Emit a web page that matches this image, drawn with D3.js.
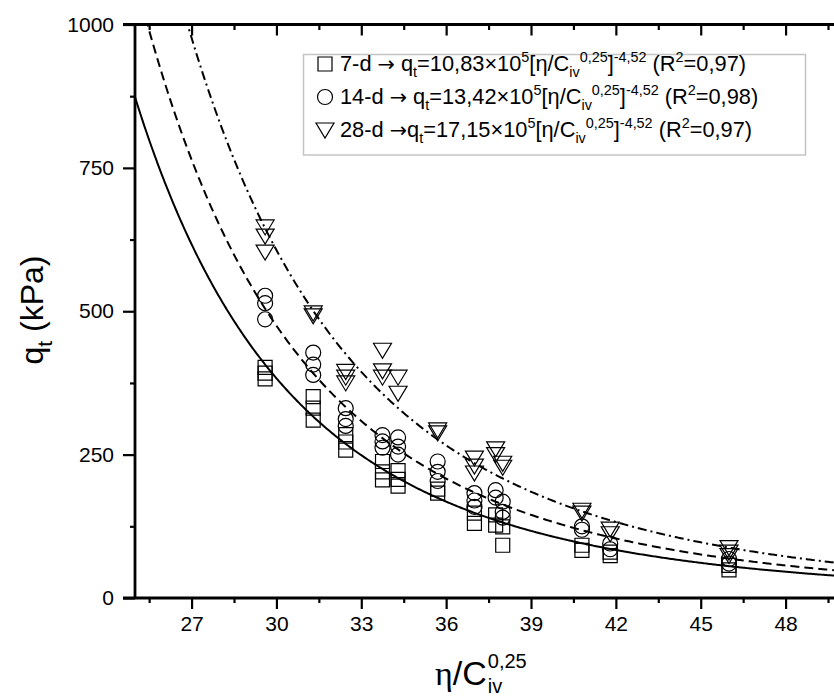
<!DOCTYPE html>
<html>
<head>
<meta charset="utf-8">
<script src="https://cdn.jsdelivr.net/npm/d3@7"></script>
<style>
body{margin:0;background:#fff;}
svg text{font-family:Arial,"Liberation Sans",sans-serif;fill:#000;}
</style>
</head>
<body>
<div id="chart"></div>
<script>
// axis ticks
var xTicks = [27,30,33,36,39,42,45,48];
var xMinor = [25.5,28.5,31.5,34.5,37.5,40.5,43.5,46.5,49.5];
var yTicks = [0,250,500,750,1000];
var yMinor = [125,375,625,875];

// measured points [eta/Civ^0.25, qt]
var d7 = [[29.6,402],[29.6,392],[29.6,382],[31.3,351],[31.3,331],[31.3,310],
  [32.45,285],[32.45,272],[32.45,258],[33.75,238],[33.75,220],[33.75,206],
  [34.3,222],[34.3,207],[34.3,195],[35.7,190],[35.7,183],[37.0,148],[37.0,130],
  [37.75,145],[37.75,127],[38.0,124],[38.0,92],[40.8,92],[40.8,83],
  [41.8,80],[41.8,74],[46.0,57],[46.0,49]];
var d14 = [[29.6,527],[29.6,514],[29.6,486],[31.3,428],[31.3,407],[31.3,389],
  [32.45,331],[32.45,312],[32.45,300],[33.75,284],[33.75,273],[33.75,262],
  [34.3,280],[34.3,264],[34.3,250],[35.7,238],[35.7,220],[35.7,204],
  [37.0,183],[37.0,170],[37.0,159],[37.75,188],[37.75,175],[38.0,168],[38.0,150],[38.0,140],
  [40.8,125],[40.8,119],[41.8,95],[41.8,85],[46.0,68],[46.0,60]];
var d28 = [[29.6,647],[29.6,631],[29.6,603],[31.3,497],[31.3,492],
  [32.45,395],[32.45,385],[32.45,375],[33.75,432],[33.75,396],[33.75,385],
  [34.3,385],[34.3,357],[35.7,293],[35.7,288],[37.0,244],[37.0,230],[37.0,218],
  [37.75,260],[37.75,250],[38.0,235],[38.0,228],[40.8,153],[40.8,148],
  [41.8,120],[41.8,112],[46.0,88],[46.0,80],[46.0,74]];

// power fits qt = a*1e5*k*(x)^b  (k)
var fitA = [10.83, 13.42, 17.15];
var fitB = -4.52;
var fitK = 1680;

var legendText = [
  "7-d → q_{t}=10,83×10^{5}[η/C_{iv}^{0,25}]^{-4,52} (R^{2}=0,97)",
  "14-d → q_{t}=13,42×10^{5}[η/C_{iv}^{0,25}]^{-4,52} (R^{2}=0,98)",
  "28-d →q_{t}=17,15×10^{5}[η/C_{iv}^{0,25}]^{-4,52} (R^{2}=0,97)"
];

var W = 834, H = 700;
var m = {t:24.5, l:135, b:102};

var svg = d3.select("#chart").append("svg")
  .attr("width", W).attr("height", H);

var x = d3.scaleLinear().domain([25,50]).range([m.l, m.l + 25*28.286]);
var y = d3.scaleLinear().domain([0,1000]).range([H - m.b, m.t]);

svg.append("clipPath").attr("id","clip")
  .append("rect")
  .attr("x", x(25)).attr("y", y(1000))
  .attr("width", x(50)-x(25)).attr("height", y(0)-y(1000));

// axes
var axB = d3.axisBottom(x).tickValues(xTicks).tickSize(11).tickPadding(7).tickFormat(d3.format("d"));
var axBm = d3.axisBottom(x).tickValues(xMinor).tickSize(5).tickFormat("");
var axT = d3.axisBottom(x).tickValues(xTicks).tickSize(11).tickFormat("");
var axTm = d3.axisBottom(x).tickValues(xMinor).tickSize(5.5).tickFormat("");
var axL = d3.axisLeft(y).tickValues(yTicks).tickSize(12).tickPadding(9).tickFormat(d3.format("d"));
var axLm = d3.axisLeft(y).tickValues(yMinor).tickSize(5).tickFormat("");

function styleAxis(g){
  g.select(".domain").remove();
  g.selectAll("line").attr("stroke","#000").attr("stroke-width",2.2);
  g.selectAll("text").attr("font-size","21px").attr("fill","#000");
}

svg.append("g").attr("transform","translate(0,"+y(0)+")").call(axB).call(styleAxis);
svg.append("g").attr("transform","translate(0,"+y(0)+")").call(axBm).call(styleAxis);
svg.append("g").attr("transform","translate(0,"+y(1000)+")").call(axT).call(styleAxis);
svg.append("g").attr("transform","translate(0,"+y(1000)+")").call(axTm).call(styleAxis);
svg.append("g").attr("transform","translate("+x(25)+",0)").call(axL).call(styleAxis);
svg.append("g").attr("transform","translate("+x(25)+",0)").call(axLm).call(styleAxis);

// axis frame lines
svg.append("line").attr("x1",x(25)).attr("x2",x(25)).attr("y1",y(0)+1).attr("y2",y(1000)-1)
  .attr("stroke","#000").attr("stroke-width",2.8);
svg.append("line").attr("x1",x(25)-12).attr("x2",W).attr("y1",y(0)).attr("y2",y(0))
  .attr("stroke","#000").attr("stroke-width",2.8);
svg.append("line").attr("x1",x(25)-12).attr("x2",W).attr("y1",y(1000)).attr("y2",y(1000))
  .attr("stroke","#000").attr("stroke-width",2.8);

// fitted curves
var dashes = [null, "9,5", "9,4,2,4"];
var xs = d3.range(25, 50.01, 0.05);
var line = d3.line().x(function(d){ return x(d[0]); }).y(function(d){ return y(d[1]); });
var plot = svg.append("g").attr("clip-path","url(#clip)");
fitA.forEach(function(a,i){
  var pts = xs.map(function(v){ return [v, Math.min(1200, a*1e5*fitK*Math.pow(v, fitB))]; });
  plot.append("path")
    .datum(pts)
    .attr("d", line)
    .attr("fill","none")
    .attr("stroke","#000")
    .attr("stroke-width",2)
    .attr("stroke-dasharray", dashes[i]);
});

// markers
var tri = "M-9,-7L9,-7L0,8Z";
function drawSet(data, kind){
  var g = plot.append("g");
  g.selectAll("path").data(data).enter().append("path")
    .attr("transform", function(d){ return "translate("+x(d[0])+","+y(d[1])+")"; })
    .attr("d", function(){
      if(kind=="sq") return d3.symbol().type(d3.symbolSquare).size(196)();
      if(kind=="ci") return d3.symbol().type(d3.symbolCircle).size(177)();
      return tri;
    })
    .attr("fill","none")
    .attr("stroke","#000")
    .attr("stroke-width",1.2);
}
drawSet(d7,"sq");
drawSet(d14,"ci");
drawSet(d28,"tr");

// rich text helper: _{sub} ^{sup}, arrow drawn in DejaVu (wider glyph)
function rich(textSel, str, size){
  var re = /([_^])\{([^}]*)\}|([^_^]+)/g, mt, shift = 0;
  while((mt = re.exec(str)) !== null){
    var mode = mt[1] || "", txt = mt[1] ? mt[2] : mt[3];
    var target = mode=="_" ? 0.28*size : mode=="^" ? -0.4*size : 0;
    var pieces = mode ? [txt] : txt.split(/(→)/);
    pieces.forEach(function(p, k){
      if(p === "") return;
      var ts = textSel.append("tspan")
        .attr("font-size", mode ? size*0.66 : size)
        .text(p);
      if(k === 0 || mode) ts.attr("dy", target - shift);
      if(p === "→") ts.attr("font-family","'DejaVu Sans',sans-serif").attr("font-size", size*0.95);
    });
    shift = target;
  }
}

// legend
var lg = svg.append("g");
lg.append("rect").attr("x",303.5).attr("y",54.5).attr("width",502).attr("height",100.5)
  .attr("fill","#fff").attr("stroke","#c4c4c4").attr("stroke-width",1.5);
var kinds = ["sq","ci","tr"], rowsY = [64, 97, 130];
legendText.forEach(function(t,i){
  var mk = lg.append("path")
    .attr("transform","translate(325,"+rowsY[i]+")")
    .attr("fill","none").attr("stroke","#000").attr("stroke-width",1.2);
  if(kinds[i]=="sq") mk.attr("d", d3.symbol().type(d3.symbolSquare).size(196)());
  else if(kinds[i]=="ci") mk.attr("d", d3.symbol().type(d3.symbolCircle).size(177)());
  else mk.attr("d", tri);
  var tx = lg.append("text").attr("x",340).attr("y",rowsY[i]+7);
  rich(tx, t, 21.8);
});

// y title
var yt = svg.append("text")
  .attr("transform","translate(43,310) rotate(-90)")
  .attr("text-anchor","middle");
rich(yt, "q_{t} (kPa)", 32);

// x title: eta/C with stacked iv / 0,25
var xt = svg.append("text").attr("x",435).attr("y",685).attr("font-size","34px");
xt.append("tspan").attr("font-family","'Liberation Serif',serif").text("η");
xt.append("tspan").text("/C");
var xw = xt.node().getComputedTextLength();
svg.append("text").attr("x",435+xw+1).attr("y",693).attr("font-size","20px").text("iv");
svg.append("text").attr("x",435+xw+1).attr("y",668).attr("font-size","20px").text("0,25");
</script>
</body>
</html>
